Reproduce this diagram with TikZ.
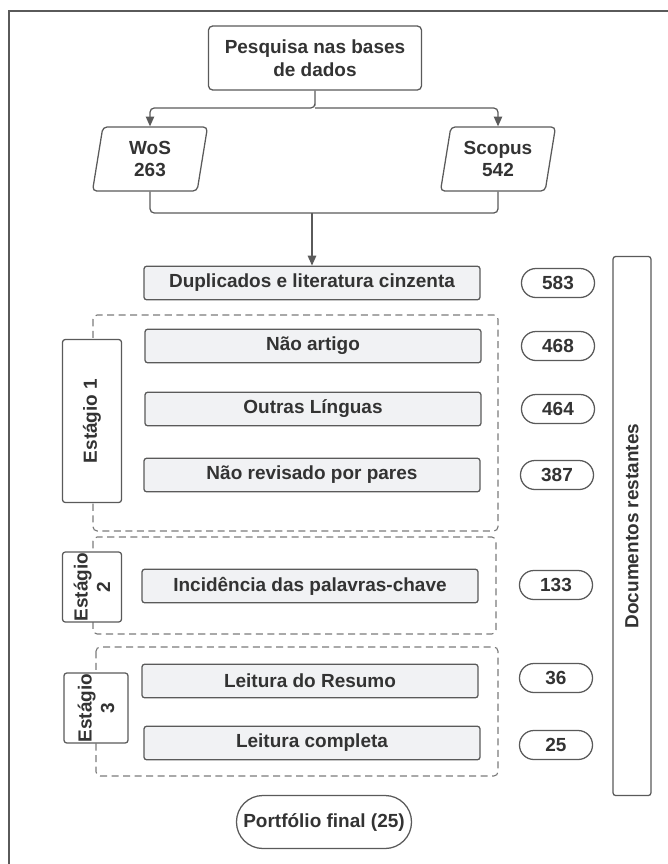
\documentclass[tikz,border=0pt]{standalone}
\usepackage{fontspec}
\setmainfont{Liberation Sans}
\usetikzlibrary{shapes.geometric,arrows.meta}

\definecolor{inkgray}{HTML}{333333}
\definecolor{linegray}{HTML}{5A5A5A}
\definecolor{boxgray}{HTML}{F1F2F4}

\tikzset{
  base/.style={draw=linegray, line width=0.9pt, text=inkgray, font=\fontsize{13.5}{16}\bfseries\selectfont, align=center, inner sep=1pt},
  topbox/.style={base, fill=white, rounded corners=3pt, minimum width=5.325cm, minimum height=1.6cm},
  sourcebox/.style={base, fill=white, trapezium, trapezium left angle=75, trapezium right angle=105, rounded corners=3pt, minimum width=2.875cm, minimum height=1.6cm, trapezium stretches body},
  filterbox/.style={base, fill=boxgray, rounded corners=2pt, minimum width=8.4cm, minimum height=0.84cm},
  countpill/.style={base, fill=white, rounded corners=0.36cm, minimum width=1.825cm, minimum height=0.725cm},
  stagebox/.style={base, fill=white, rotate=90, rounded corners=2pt, inner sep=0pt},
  groupbox/.style={draw=linegray!80, line width=0.8pt, dash pattern=on 5pt off 3.2pt, rounded corners=3pt},
  flow/.style={draw=linegray, line width=0.9pt, rounded corners=3pt},
  frame/.style={draw=linegray, line width=0.9pt}
}

\begin{document}
\begin{tikzpicture}[x=0.025cm, y=-0.025cm]
\useasboundingbox (0,0) rectangle (668,864);

% outer frame
\draw [frame] (9,864) -- (9,11) -- (668,11);

% search and sources
\node [topbox] (search) at (315,58) {Pesquisa nas bases\\de dados};
\node [sourcebox] (wos) at (150,159) {WoS\\263};
\node [sourcebox] (scopus) at (498,159) {Scopus\\542};

% stage groups
\draw [groupbox] (93,315) rectangle (498,531);
\draw [groupbox] (93,537) rectangle (496,634);
\draw [groupbox] (96,647) rectangle (498,776);

% filters
\node [filterbox] (dup) at (312,283) {Duplicados e literatura cinzenta};
\node [filterbox] (artigo) at (313,346) {Não artigo};
\node [filterbox] (linguas) at (313,409) {Outras Línguas};
\node [filterbox] (pares) at (312,475) {Não revisado por pares};
\node [filterbox] (chave) at (310,586) {Incidência das palavras-chave};
\node [filterbox] (resumo) at (310,681) {Leitura do Resumo};
\node [filterbox] (completa) at (312,743) {Leitura completa};

% remaining counts
\node [countpill] (n583) at (558,283) {583};
\node [countpill] (n468) at (558,346) {468};
\node [countpill] (n464) at (558,409) {464};
\node [countpill] (n387) at (557,475) {387};
\node [countpill] (n133) at (556,585) {133};
\node [countpill] (n36) at (556,678) {36};
\node [countpill] (n25) at (556,745) {25};

% stage labels
\node [stagebox, minimum width=4.075cm, minimum height=1.475cm] (stage1) at (92,421) {Estágio 1};
\node [stagebox, minimum width=1.75cm, minimum height=1.475cm] (stage2) at (92,587) {Estágio\\2};
\node [stagebox, minimum width=1.75cm, minimum height=1.6cm] (stage3) at (96,708) {Estágio\\3};

\node [stagebox, minimum width=13.475cm, minimum height=0.95cm] (restantes) at (632,526) {Documentos restantes};

\node [base, fill=white, rounded corners=0.66cm, minimum width=4.375cm, minimum height=1.325cm] (final) at (324,822) {Portfólio final (25)};

% connectors
\coordinate (split) at (315,108);
\coordinate (join) at (312,213);
\draw [flow, -{Triangle[length=7pt, width=6pt]}] (search.south) |- (split) -| (wos.north);
\draw [flow, -{Triangle[length=7pt, width=6pt]}] (split) -| (scopus.north);
\draw [flow] (wos.south) |- (join) -| (scopus.south);
\draw [flow, -{Triangle[length=7pt, width=6pt]}] (join) -- (dup.north);

\end{tikzpicture}
\end{document}
